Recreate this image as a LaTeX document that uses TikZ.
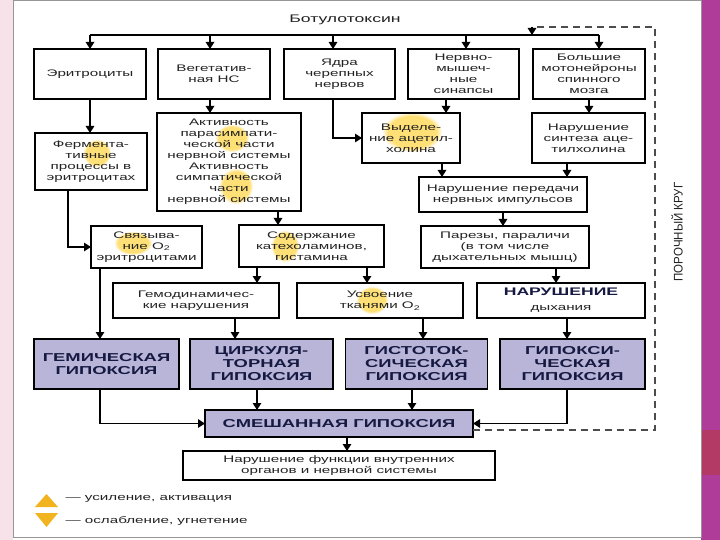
\documentclass[tikz,border=0pt]{standalone}
\usepackage{fontspec}
\setmainfont{Liberation Sans}[FakeStretch=1.6]
\newfontfamily\krf{Liberation Sans}[FakeStretch=0.92]
\usetikzlibrary{arrows.meta,fadings,backgrounds}
\definecolor{txt}{RGB}{35,35,35}
\definecolor{hyp}{RGB}{184,181,216}
\definecolor{hyptxt}{RGB}{22,25,65}
\definecolor{glowc}{RGB}{255,212,60}
\definecolor{legc}{RGB}{242,180,30}
\definecolor{pinkbg}{RGB}{246,226,232}
\definecolor{magbg}{RGB}{176,60,154}
\definecolor{redbg}{RGB}{178,58,100}
\definecolor{framec}{RGB}{150,150,150}
\begin{document}
\begin{tikzpicture}[x=1pt,y=-1pt,
 box/.style={draw=black, line width=1.4pt, inner sep=0pt, outer sep=0pt, align=center, text=txt, font=\fontsize{9.5}{11}\selectfont},
 hbox/.style={box, fill=hyp, text=hyptxt, font=\fontsize{11.5}{13}\selectfont\bfseries},
 arr/.style={line width=1.4pt, -{Triangle[width=8.5pt,length=7pt]}},
 loopline/.style={line width=1.5pt, draw=black!70, dash pattern=on 7pt off 5pt},
 glow/.style={glowc, path fading=circle with fuzzy edge 20 percent, opacity=0.7},
 legtri/.style={fill=legc},
]
\useasboundingbox (0,0) rectangle (720,540);
% background
\fill[pinkbg] (0,0) rectangle (13,540);
\fill[white] (13,0) rectangle (701,540);
\fill[magbg] (701,0) rectangle (720,540);
\fill[redbg] (701,430) rectangle (720,475);
\draw[framec, line width=1pt] (13,1) rectangle (701,537);

% glows
\fill[glow] (97,153) ellipse (14 and 14);
\fill[glow] (232,138) ellipse (17 and 14);
\fill[glow] (236,186) ellipse (17 and 18);
\fill[glow] (133,243) ellipse (19 and 12);
\fill[glow] (412,132) ellipse (30 and 20);
\fill[glow] (285,246) ellipse (14 and 16);
\fill[glow] (372,300) ellipse (16 and 14);

% title and bus
\node[font=\fontsize{11}{13}\selectfont, text=txt] (title) at (345,20) {Ботулотоксин};
\coordinate (b1) at (90,35);
\coordinate (b2) at (210,35);
\coordinate (b3) at (333,35);
\coordinate (b4) at (466,35);
\coordinate (b5) at (599,35);
\draw[line width=1.4pt] (b1) -- (b5);

% row 1
\node[box, minimum width=112pt, minimum height=50pt] (eri) at (90,74) {Эритроциты};
\node[box, minimum width=112pt, minimum height=50pt] (veg) at (214,74) {Вегетатив-\\ная НС};
\node[box, minimum width=111pt, minimum height=50pt] (yad) at (339.5,74) {Ядра\\черепных\\нервов};
\node[box, minimum width=111pt, minimum height=50pt] (ner) at (463.5,74) {Нервно-\\мышеч-\\ные\\синапсы};
\node[box, minimum width=112pt, minimum height=50pt] (bol) at (589,74) {Большие\\мотонейроны\\спинного\\мозга};

% row 2
\node[box, minimum width=112pt, minimum height=57pt] (fer) at (91,161.5) {Фермента-\\тивные\\процессы в\\эритроцитах};
\node[box, minimum width=144pt, minimum height=98pt] (akt) at (229,162) {Активность\\парасимпати-\\ческой части\\нервной системы\\Активность\\симпатической\\части\\нервной системы};
\node[box, minimum width=98pt, minimum height=50pt] (vyd) at (411,138) {Выделе-\\ние ацетил-\\холина};
\node[box, minimum width=113pt, minimum height=50pt] (nsa) at (588.5,138) {Нарушение\\синтеза аце-\\тилхолина};
\node[box, minimum width=168pt, minimum height=35pt] (npe) at (503,194.5) {Нарушение передачи\\нервных импульсов};

% row 3
\node[box, minimum width=111pt, minimum height=42pt] (svy) at (146.5,247) {Связыва-\\ние O\textsubscript{2}\\эритроцитами};
\node[box, minimum width=145pt, minimum height=42pt] (sod) at (311.5,246) {Содержание\\катехоламинов,\\гистамина};
\node[box, minimum width=168pt, minimum height=42pt] (par) at (505,247) {Парезы, параличи\\(в том числе\\дыхательных мышц)};

% row 4
\node[box, minimum width=166pt, minimum height=35pt] (gem) at (196,300.5) {Гемодинамичес-\\кие нарушения};
\node[box, minimum width=166pt, minimum height=35pt] (usv) at (380,300.5) {Усвоение\\тканями O\textsubscript{2}};
\node[box, minimum width=168pt, minimum height=35pt] (nar) at (561,300.5) {{\fontsize{11}{13}\selectfont\bfseries\color{hyptxt}НАРУШЕНИЕ}\\[4pt]дыхания};
\begin{scope}[on background layer]
\fill[hyp] (nar.north west) rectangle ([yshift=-18pt]nar.north east);
\end{scope}

% row 5
\node[hbox, minimum width=145pt, minimum height=50pt] (hgem) at (106.5,364) {ГЕМИЧЕСКАЯ\\ГИПОКСИЯ};
\node[hbox, minimum width=143pt, minimum height=50pt] (hcir) at (261.5,364) {ЦИРКУЛЯ-\\ТОРНАЯ\\ГИПОКСИЯ};
\node[hbox, minimum width=142pt, minimum height=50pt] (hgis) at (416.5,364) {ГИСТОТОК-\\СИЧЕСКАЯ\\ГИПОКСИЯ};
\node[hbox, minimum width=145pt, minimum height=50pt] (hgip) at (572.5,364) {ГИПОКСИ-\\ЧЕСКАЯ\\ГИПОКСИЯ};

% row 6, 7
\node[hbox, minimum width=268pt, minimum height=27pt] (mix) at (339,423.5) {СМЕШАННАЯ ГИПОКСИЯ};
\node[box, minimum width=312pt, minimum height=29pt] (fun) at (339,465.5) {Нарушение функции внутренних\\органов и нервной системы};

% vicious circle label
\node[rotate=90, font=\krf\fontsize{12.5}{14}\selectfont, text=txt] (kr) at (677,232) {ПОРОЧНЫЙ КРУГ};

% arrows from bus
\draw[arr] (b1) -- (b1 |- eri.north);
\draw[arr] (b2) -- (b2 |- veg.north);
\draw[arr] (b3) -- (b3 |- yad.north);
\draw[arr] (b4) -- (b4 |- ner.north);
\draw[arr] (b5) -- (b5 |- bol.north);

% arrows
\draw[arr] (eri.south) -- (eri.south |- fer.north);
\draw[arr] ([xshift=-4pt]veg.south) -- ([xshift=-4pt]veg.south |- akt.north);
\draw[arr] ([xshift=-6.5pt]yad.south) |- (vyd.west);
\draw[arr] ([xshift=-17.5pt]ner.south) -- ([xshift=-17.5pt]ner.south |- vyd.north);
\draw[arr] (bol.south) -- (bol.south |- nsa.north);
\draw[arr] ([xshift=-23pt]fer.south) |- (svy.west);
\draw[arr] ([xshift=49pt]akt.south) -- ([xshift=49pt]akt.south |- sod.north);
\draw[arr] ([xshift=31pt]vyd.south) -- ([xshift=31pt]vyd.south |- npe.north);
\draw[arr] ([xshift=-21.5pt]nsa.south) -- ([xshift=-21.5pt]nsa.south |- npe.north);
\draw[arr] (npe.south) -- (npe.south |- par.north);
\draw[arr] ([xshift=-46.5pt]svy.south) -- ([xshift=-46.5pt]svy.south |- hgem.north);
\draw[arr] ([xshift=-54.5pt]sod.south) -- ([xshift=-54.5pt]sod.south |- gem.north);
\draw[arr] ([xshift=55.5pt]sod.south) -- ([xshift=55.5pt]sod.south |- usv.north);
\draw[arr] ([xshift=51pt]par.south) -- ([xshift=51pt]par.south |- nar.north);
\draw[arr] ([xshift=39pt]gem.south) -- ([xshift=39pt]gem.south |- hcir.north);
\draw[arr] ([xshift=43pt]usv.south) -- ([xshift=43pt]usv.south |- hgis.north);
\draw[arr] ([xshift=6pt]nar.south) -- ([xshift=6pt]nar.south |- hgip.north);
\draw[arr] ([xshift=-6.5pt]hgem.south) |- (mix.west);
\draw[arr] ([xshift=-4.5pt]hcir.south) -- ([xshift=-4.5pt]hcir.south |- mix.north);
\draw[arr] ([xshift=-4.5pt]hgis.south) -- ([xshift=-4.5pt]hgis.south |- mix.north);
\draw[arr] ([xshift=-5.5pt]hgip.south) |- (mix.east);
\draw[arr] ([xshift=8pt]mix.south) -- ([xshift=8pt]mix.south |- fun.north);

% vicious circle dashed loop
\coordinate (lpA) at (655,430);
\coordinate (lpB) at (655,27);
\coordinate (lpC) at (532,27);
\coordinate (lpD) at (532,35);
\draw[loopline] ([yshift=-6.5pt]mix.east) -- (lpA) -- (lpB) -- (lpC);
\draw[arr] (lpC) -- (lpD);

% legend
\fill[legtri] (35,507) -- (58,507) -- (46.5,494) -- cycle;
\fill[legtri] (35,513) -- (58,513) -- (46.5,527) -- cycle;
\node[anchor=west, text=txt, font=\fontsize{9.5}{11}\selectfont] (lg1) at (62,499) {— усиление, активация};
\node[anchor=west, text=txt, font=\fontsize{9.5}{11}\selectfont] (lg2) at (62,521) {— ослабление, угнетение};
\end{tikzpicture}
\end{document}
